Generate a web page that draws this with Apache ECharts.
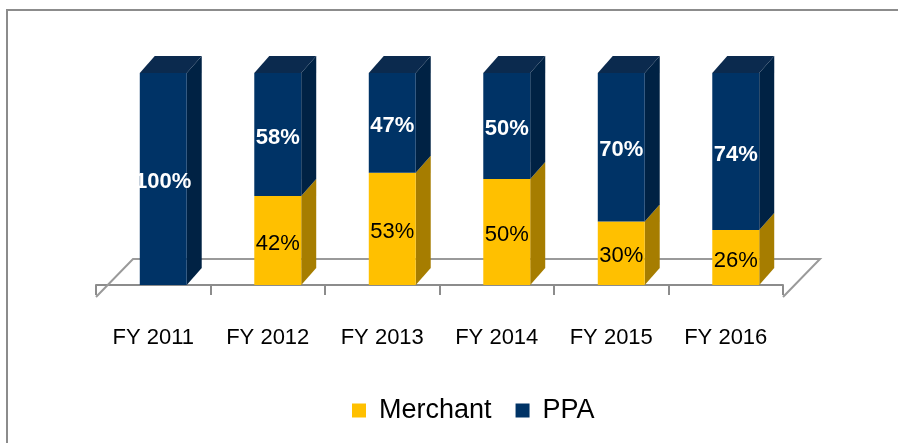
<!DOCTYPE html>
<html>
<head>
<meta charset="utf-8">
<script src="https://cdn.jsdelivr.net/npm/echarts@6/dist/echarts.min.js"></script>
<style>
  html, body { margin: 0; padding: 0; background: #fff; }
  #chart { width: 898px; height: 443px; }
</style>
</head>
<body>
<div id="chart"></div>
<script>
const categories = ['FY 2011', 'FY 2012', 'FY 2013', 'FY 2014', 'FY 2015', 'FY 2016']
const merchant = [0, 42, 53, 50, 30, 26]
const ppa = [100, 58, 47, 50, 70, 74]

// 3d look
const DX = 15
const DY = 17
const SHIFT = 10
const BAR_RATIO = 0.41

const merchantColors = { front: '#FFC000', side: '#A67D00', top: '#D9A300' }
const ppaColors = { front: '#003366', side: '#002244', top: '#0B2A4E' }

function barRenderer(colors, labelColor, bold) {
  return function (params, api) {
    const i = api.value(0)
    const lo = api.value(1)
    const hi = api.value(2)
    const val = api.value(3)
    if (hi <= lo) return null
    const p0 = api.coord([i, lo])
    const p1 = api.coord([i, hi])
    const w = api.size([1, 0])[0] * BAR_RATIO
    const x = p0[0] - w / 2 + SHIFT
    const yb = p0[1]
    const yt = p1[1]
    const children = [
      {
        type: 'polygon',
        shape: { points: [[x + w, yb], [x + w + DX, yb - DY], [x + w + DX, yt - DY], [x + w, yt]] },
        style: { fill: colors.side }
      },
      {
        type: 'rect',
        shape: { x: x, y: yt, width: w, height: yb - yt },
        style: { fill: colors.front }
      }
    ]
    if (hi >= 100) {
      children.push({
        type: 'polygon',
        shape: { points: [[x, yt], [x + DX, yt - DY], [x + w + DX, yt - DY], [x + w, yt]] },
        style: { fill: colors.top }
      })
    }
    children.push({
      type: 'text',
      style: {
        text: val + '%',
        x: x + w / 2,
        y: (yt + yb) / 2 + 3,
        align: 'center',
        verticalAlign: 'middle',
        fill: labelColor,
        font: (bold ? 'bold ' : '') + '22px "Liberation Sans", Arial, sans-serif'
      },
      z2: 10
    })
    return { type: 'group', children: children }
  }
}

const merchantData = categories.map((c, i) => [i, 0, merchant[i], merchant[i]])
const ppaData = categories.map((c, i) => [i, merchant[i], merchant[i] + ppa[i], ppa[i]])

const chart = echarts.init(document.getElementById('chart'))

const option = {
  animation: false,
  backgroundColor: '#fff',
  graphic: [{
    type: 'rect',
    shape: { x: 7, y: 10, width: 1000, height: 1000 },
    style: { fill: 'none', stroke: '#8c8c8c', lineWidth: 2 },
    silent: true
  }],
  grid: { left: 96, right: 115, top: 73, bottom: 158 },
  legend: {
    data: ['Merchant', 'PPA'],
    bottom: 14,
    left: 347,
    icon: 'rect',
    itemWidth: 14,
    itemHeight: 14,
    itemGap: 24,
    textStyle: { fontSize: 27, color: '#000', fontFamily: '"Liberation Sans", Arial, sans-serif', padding: [0, 0, 0, 8] }
  },
  xAxis: {
    type: 'category',
    data: categories,
    offset: 12,
    boundaryGap: true,
    axisLine: { lineStyle: { color: '#8c8c8c', width: 2 } },
    axisTick: { show: true, length: 10, lineStyle: { color: '#8c8c8c', width: 2 } },
    axisLabel: {
      margin: 30,
      fontSize: 22,
      color: '#000',
      fontFamily: '"Liberation Sans", Arial, sans-serif'
    }
  },
  yAxis: { type: 'value', min: 0, max: 100, show: false },
  series: [
    {
      name: 'floor',
      type: 'custom',
      z: 1,
      silent: true,
      data: [[0]],
      renderItem: function (params, api) {
        const cs = params.coordSys
        const yf = cs.y + cs.height + 12
        const yb = cs.y + cs.height - 26
        const d = 37
        return {
          type: 'polyline',
          shape: { points: [[cs.x, yf], [cs.x + d, yb], [cs.x + cs.width + d, yb], [cs.x + cs.width, yf]] },
          style: { stroke: '#9a9a9a', lineWidth: 2, fill: null }
        }
      }
    },
    {
      name: 'Merchant',
      type: 'custom',
      z: 3,
      itemStyle: { color: merchantColors.front },
      encode: { x: 0, y: 2 },
      data: merchantData,
      renderItem: barRenderer(merchantColors, '#000', false)
    },
    {
      name: 'PPA',
      type: 'custom',
      z: 4,
      itemStyle: { color: ppaColors.front },
      encode: { x: 0, y: 2 },
      data: ppaData,
      renderItem: barRenderer(ppaColors, '#fff', true)
    }
  ]
}

chart.setOption(option)
</script>
</body>
</html>
